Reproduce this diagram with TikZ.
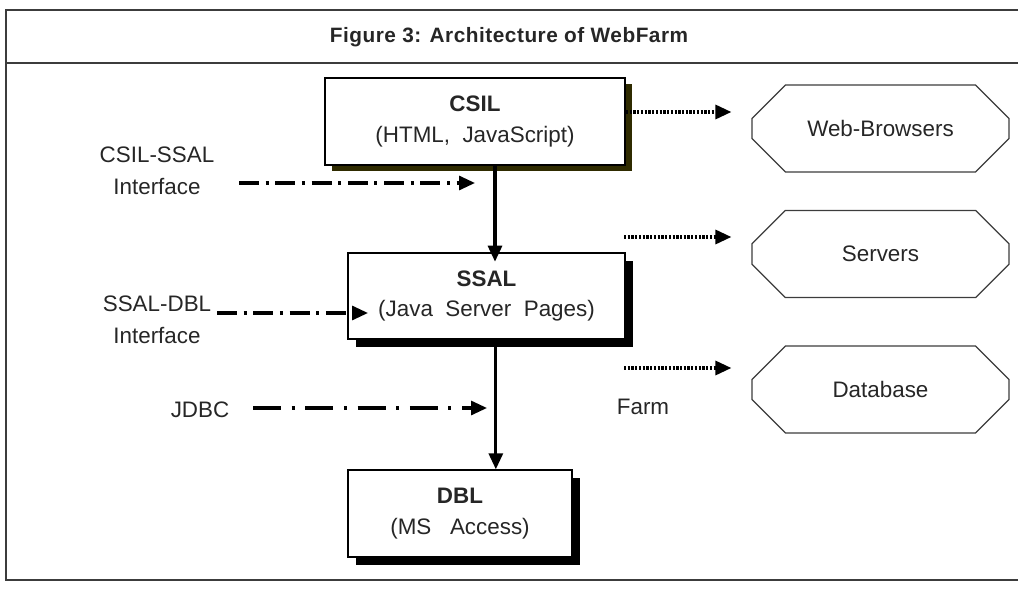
\documentclass[tikz,border=0pt]{standalone}
\usepackage{fontspec}
\setmainfont{Liberation Sans}
\newfontfamily\titlefont[LetterSpace=2.5]{Liberation Sans}
\usetikzlibrary{arrows.meta,shapes.misc,shadows}

\definecolor{ink}{HTML}{262626}
\definecolor{framegray}{HTML}{3C3C3C}
\definecolor{olive}{HTML}{2F2B00}

\tikzset{
  txt/.style={text=ink, font=\fontsize{16.8pt}{21pt}\selectfont, align=center},
  layerbox/.style={txt, draw=black, line width=1pt, fill=white, inner sep=0pt},
  clientbox/.style={layerbox, drop shadow={shadow xshift=5.5pt, shadow yshift=-4.5pt, fill=olive, opacity=1}},
  serverbox/.style={layerbox, drop shadow={shadow xshift=6pt, shadow yshift=-6pt, fill=black, opacity=1}},
  farmnode/.style={txt, chamfered rectangle, chamfered rectangle xsep=19pt, chamfered rectangle ysep=19pt,
    draw=framegray, line width=0.9pt, minimum width=192.75pt, minimum height=65.25pt, inner sep=0pt},
  tip/.style={-{Triangle[length=12pt,width=10.5pt]}},
  flow/.style={tip, line width=2.3pt},
  ifshort/.style={tip, line width=2.3pt, dash pattern=on 15pt off 5pt on 2.2pt off 5pt},
  iflong/.style={tip, line width=2.3pt, dash pattern=on 21pt off 8pt on 2.2pt off 8pt},
  farmlink/.style={tip, line width=2.4pt, dash pattern=on 1.7pt off 1.1pt},
}

\begin{document}
\begin{tikzpicture}[x=0.75pt,y=-0.75pt]
  \useasboundingbox (0,0) rectangle (1018,592);

  % frame with title strip
  \draw[framegray, line width=1.5pt] (1018,10) -- (6,10) -- (6,580) -- (1018,580);
  \draw[framegray, line width=1.5pt] (6,63) -- (1018,63);
  \node[text=ink, font=\titlefont\fontsize{15.6pt}{18pt}\selectfont\bfseries] (title) at (509,37)
    {Figure 3: Architecture of WebFarm};

  % the three layers
  \node[clientbox, minimum width=225pt, minimum height=65.25pt] (csil) at (475,121.5)
    {\textbf{CSIL}\\[2pt](HTML,\ \ JavaScript)};
  \node[serverbox, minimum width=207.75pt, minimum height=64.5pt] (ssal) at (486.5,296)
    {\textbf{SSAL}\\[2pt](Java\ \ Server\ \ Pages)};
  \node[serverbox, minimum width=168pt, minimum height=65.25pt] (dbl) at (460,513.5)
    {\textbf{DBL}\\[2pt](MS\ \ \ Access)};

  % the farm
  \node[farmnode] (web) at (880.5,128.5) {Web-Browsers};
  \node[farmnode] (servers) at (880.5,254) {Servers};
  \node[farmnode] (database) at (880.5,389.5) {Database};
  \node[txt] (farm) at (643,407) {Farm};

  % interface labels
  \node[txt] (csilssal) at (157,171) {CSIL-SSAL\\[3pt]Interface};
  \node[txt] (ssaldbl) at (157,320) {SSAL-DBL\\[3pt]Interface};
  \node[txt] (jdbc) at (200,410) {JDBC};

  % vertical flow between layers
  \draw[flow] ([xshift=15pt]csil.south) -- ([xshift=15pt,yshift=-7pt]csil.south |- ssal.north);
  \draw[flow] ([xshift=7pt]ssal.south) -- ([xshift=7pt]ssal.south |- dbl.north);

  % interface arrows
  \coordinate (a1s) at (239,183);
  \coordinate (a1e) at (475,183);
  \draw[ifshort] (a1s) -- (a1e);
  \coordinate (a2s) at (217,313);
  \coordinate (a2e) at (368,313);
  \draw[ifshort] (a2s) -- (a2e);
  \coordinate (a3s) at (253,408);
  \coordinate (a3e) at (487,408);
  \draw[iflong] (a3s) -- (a3e);

  % links to the farm
  \coordinate (f1s) at (626,112);
  \coordinate (f2s) at (624,237);
  \coordinate (f3s) at (624,368);
  \draw[farmlink] (f1s) -- ([xshift=-15pt]f1s -| web.west);
  \draw[farmlink] (f2s) -- ([xshift=-15pt]f2s -| servers.west);
  \draw[farmlink] (f3s) -- ([xshift=-15pt]f3s -| database.west);
\end{tikzpicture}
\end{document}
